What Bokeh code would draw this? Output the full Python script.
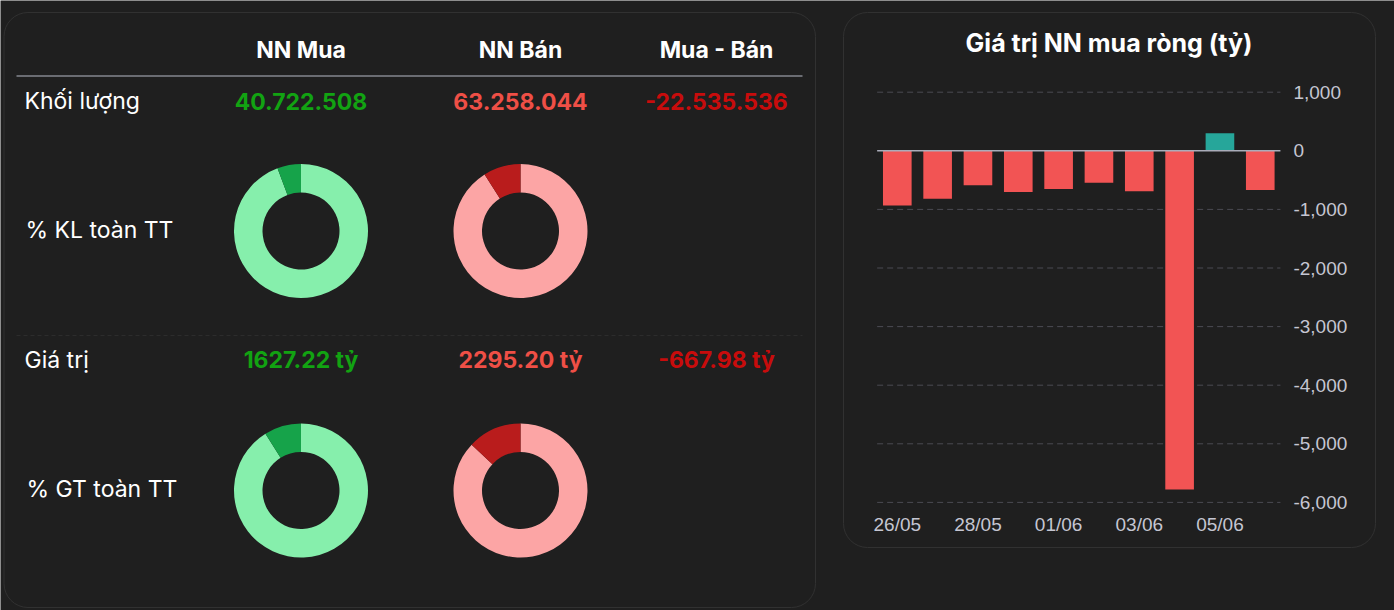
import math
from bokeh.plotting import figure
from bokeh.models import (Range1d, FixedTicker, NumeralTickFormatter, LinearAxis)
from bokeh.core.properties import value
from bokeh.embed import file_html
from bokeh.resources import INLINE

# ---------------- data ----------------
col_headers = ["NN Mua", "NN Bán", "Mua - Bán"]
row_labels = ["Khối lượng", "% KL toàn TT", "Giá trị", "% GT toàn TT"]
volume_texts = ["40.722.508", "63.258.044", "-22.535.536"]
value_texts = ["1627.22 tỷ", "2295.20 tỷ", "-667.98 tỷ"]
kl_share_pct = [5.7, 9.0]    # NN Mua, NN Bán : % of market volume
gt_share_pct = [8.9, 13.0]   # NN Mua, NN Bán : % of market value

chart_title = "Giá trị NN mua ròng (tỷ)"
dates = ["26/05", "27/05", "28/05", "29/05", "01/06",
         "02/06", "03/06", "04/06", "05/06", "08/06"]
net_values = [-935, -820, -590, -705, -650, -545, -690, -5780, 300, -667.98]
y_ticks = [1000, 0, -1000, -2000, -3000, -4000, -5000, -6000]

# ---------------- style ----------------
W, H = 1394, 610
BG = "#1f1f1f"
PANEL_LINE = "#313131"
GREEN_TXT = "#12a312"
RED_TXT = "#ef4f46"
DRED_TXT = "#c80c0c"
LIGHT_GREEN, DARK_GREEN = "#86efac", "#16a34a"
LIGHT_RED, DARK_RED = "#fca5a5", "#b91c1c"
BAR_RED, BAR_GREEN = "#f25454", "#26a69a"
AXIS_TXT = "#c5c6d2"
FONT = "Inter"

p = figure(width=W, height=H, x_range=Range1d(0, W), y_range=Range1d(H, 0),
           x_axis_type=None, y_axis_type=None, toolbar_location=None,
           output_backend="svg", min_border=0, background_fill_color=BG,
           border_fill_color=BG, outline_line_color=None)


def rounded_box(x0, y0, x1, y1, r, color):
    p.segment(x0=[x0 + r, x0 + r, x0, x1], y0=[y0, y1, y0 + r, y0 + r],
              x1=[x1 - r, x1 - r, x0, x1], y1=[y0, y1, y1 - r, y1 - r],
              line_color=color, line_width=1)
    p.arc(x=[x0 + r, x1 - r, x0 + r, x1 - r], y=[y0 + r, y0 + r, y1 - r, y1 - r],
          radius=r,
          start_angle=[math.pi / 2, 0, math.pi, 1.5 * math.pi],
          end_angle=[math.pi, math.pi / 2, 1.5 * math.pi, 2 * math.pi],
          line_color=color, line_width=1)


# ---------------- left panel ----------------
rounded_box(3.5, 12, 815, 607, 24, PANEL_LINE)

col_x = [300.5, 520, 716]
p.text(x=col_x, y=[49.5] * 3, text=col_headers, text_align="center",
       text_baseline="alphabetic", text_font=value(FONT), text_font_style="bold",
       text_font_size="23px", text_color="#ffffff")
p.segment(x0=[16], y0=[75.5], x1=[802], y1=[75.5], line_color="#b6bac6", line_width=1)
p.segment(x0=[16], y0=[335], x1=[802], y1=[335], line_color="#2c2c2c",
          line_width=1, line_dash="4 3")

p.text(x=[24, 25, 24, 26], y=[100.5, 229.5, 359.5, 488.5], text=row_labels,
       text_align="left", text_baseline="alphabetic", text_font=value(FONT),
       text_font_size="23px", text_color="#ffffff")

txt_colors = [GREEN_TXT, RED_TXT, DRED_TXT]
p.text(x=col_x, y=[100.5] * 3, text=volume_texts, text_align="center",
       text_baseline="alphabetic", text_font=value(FONT), text_font_style="bold",
       text_font_size="23px", text_color=txt_colors)
p.text(x=col_x, y=[359.5] * 3, text=value_texts, text_align="center",
       text_baseline="alphabetic", text_font=value(FONT), text_font_style="bold",
       text_font_size="23px", text_color=txt_colors)

donut_cols = [(300.5, LIGHT_GREEN, DARK_GREEN), (520, LIGHT_RED, DARK_RED)]
for cy, shares in [(230.5, kl_share_pct), (490, gt_share_pct)]:
    for (cx, light, dark), pct in zip(donut_cols, shares):
        a0 = math.pi / 2
        a1 = a0 + pct / 100 * 2 * math.pi
        p.annular_wedge(x=[cx], y=[cy], inner_radius=38.5, outer_radius=67,
                        start_angle=[a1], end_angle=[a0 + 2 * math.pi],
                        fill_color=light, line_color=None)
        p.annular_wedge(x=[cx], y=[cy], inner_radius=38.5, outer_radius=67,
                        start_angle=[a0], end_angle=[a1],
                        fill_color=dark, line_color=None)

# ---------------- right panel (bar chart) ----------------
rounded_box(843, 12, 1375, 547, 24, PANEL_LINE)
p.text(x=[1108.5], y=[42], text=[chart_title], text_align="center",
       text_baseline="alphabetic", text_font=value(FONT), text_font_style="bold",
       text_font_size="25px", text_color="#ffffff")

# bar-chart coordinate system (category index / value) placed on the canvas
CAT_PX, X0_PX = 40.33, 896.8          # px per category, px of first category centre
ZERO_PX, VAL_PX = 150.3, 0.0586       # px of value 0, px per unit
p.extra_x_ranges = {"bx": Range1d((0 - X0_PX) / CAT_PX, (W - X0_PX) / CAT_PX)}
p.extra_y_ranges = {"by": Range1d((ZERO_PX - H) / VAL_PX, ZERO_PX / VAL_PX)}

n = len(dates)
idx = list(range(n))
lo, hi = -0.5, n - 0.5

grid_ticks = [t for t in y_ticks if t != 0]
p.segment(x0=[lo] * len(grid_ticks), x1=[hi] * len(grid_ticks), y0=grid_ticks,
          y1=grid_ticks, x_range_name="bx", y_range_name="by",
          line_color="#4a4a52", line_width=1, line_dash="6 4")

bar_colors = [BAR_GREEN if v > 0 else BAR_RED for v in net_values]
p.vbar(x=idx, top=net_values, bottom=0, width=0.71, fill_color=bar_colors,
       line_color=None, x_range_name="bx", y_range_name="by")
p.segment(x0=[lo], x1=[hi], y0=[0], y1=[0], x_range_name="bx", y_range_name="by",
          line_color="#aaacb9", line_width=1.6)

yax = LinearAxis(x_range_name="bx", y_range_name="by", fixed_location=hi,
                 ticker=FixedTicker(ticks=y_ticks),
                 formatter=NumeralTickFormatter(format="0,0"))
xax = LinearAxis(x_range_name="bx", y_range_name="by",
                 fixed_location=(ZERO_PX - 506) / VAL_PX,
                 ticker=FixedTicker(ticks=idx[::2]),
                 major_label_overrides={i: dates[i] for i in idx[::2]})
for ax in (xax, yax):
    ax.axis_line_color = None
    ax.major_tick_line_color = None
    ax.minor_tick_line_color = None
    ax.major_tick_out = 0
    ax.major_tick_in = 0
    ax.major_label_text_font = "Liberation Sans"
    ax.major_label_text_font_size = "19px"
    ax.major_label_text_color = AXIS_TXT
yax.major_label_standoff = 13
xax.major_label_standoff = 7
p.add_layout(yax, "right")
p.add_layout(xax, "below")

open("out.html", "w").write(file_html(p, INLINE))
